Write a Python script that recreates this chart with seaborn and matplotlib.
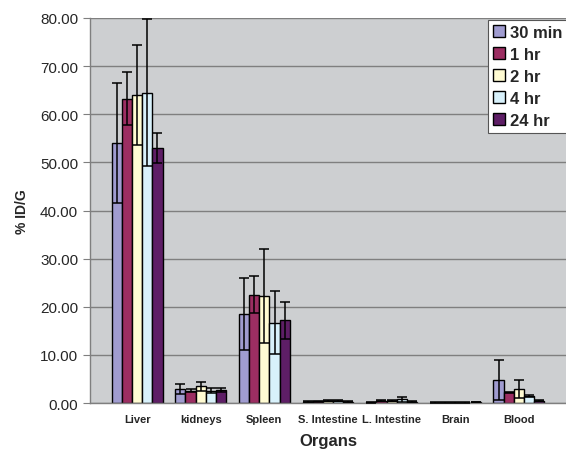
import numpy as np
import pandas as pd
import matplotlib
matplotlib.use("Agg")
import matplotlib.pyplot as plt
import seaborn as sns

organs = ["Liver", "kidneys", "Spleen", "S. Intestine", "L. Intestine", "Brain", "Blood"]
times = ["30 min", "1 hr", "2 hr", "4 hr", "24 hr"]

# valores medios por tempo (mesma ordem de organs)
vals_30min = [54.0, 2.9, 18.5, 0.3, 0.2, 0.1, 4.8]
vals_1hr = [63.2, 2.6, 22.5, 0.4, 0.5, 0.1, 2.2]
vals_2hr = [64.0, 3.5, 22.3, 0.5, 0.5, 0.1, 3.0]
vals_4hr = [64.5, 2.6, 16.7, 0.5, 0.8, 0.1, 1.5]
vals_24hr = [53.0, 2.7, 17.2, 0.3, 0.3, 0.2, 0.5]

# desvio padrao
err_30min = [12.5, 1.0, 7.5, 0.1, 0.1, 0.05, 4.2]
err_1hr = [5.5, 0.4, 3.8, 0.1, 0.1, 0.05, 0.2]
err_2hr = [10.3, 0.9, 9.8, 0.15, 0.15, 0.05, 1.9]
err_4hr = [15.3, 0.5, 6.6, 0.15, 0.5, 0.05, 0.2]
err_24hr = [3.2, 0.4, 3.9, 0.1, 0.1, 0.05, 0.1]

cores = ["#A09CD0", "#9C2E62", "#FFFBD2", "#D8F1FB", "#5E1E66"]

medias = [vals_30min, vals_1hr, vals_2hr, vals_4hr, vals_24hr]
erros = [err_30min, err_1hr, err_2hr, err_4hr, err_24hr]

linhas = []
for t, m, e in zip(times, medias, erros):
    for o, v, d in zip(organs, m, e):
        linhas.append({"Organ": o, "Time": t, "value": v, "err": d})
df = pd.DataFrame(linhas)

sns.set_style("white")
plt.rcParams["font.family"] = ["Liberation Sans", "DejaVu Sans"]

fig, ax = plt.subplots(figsize=(5.66, 4.52), dpi=100)
fig.subplots_adjust(left=0.159, right=1.0, top=0.958, bottom=0.106)
ax.set_facecolor("#CDCFD1")

sns.barplot(data=df, x="Organ", y="value", hue="Time", order=organs, hue_order=times,
            palette=cores, errorbar=None, width=0.8, edgecolor="black", linewidth=1.0,
            saturation=1, ax=ax, zorder=2)

# barras de erro a partir dos patches
for i, t in enumerate(times):
    cont = ax.containers[i]
    sub = df[df["Time"] == t].set_index("Organ").loc[organs]
    xs = [p.get_x() + p.get_width() / 2 for p in cont.patches]
    ys = [p.get_height() for p in cont.patches]
    ax.errorbar(xs, ys, yerr=sub["err"].values, fmt="none", ecolor="black",
                elinewidth=1.1, capsize=3.5, capthick=1.1, zorder=3)

ax.set_ylim(0, 80)
ax.set_yticks(np.arange(0, 81, 10))
ax.set_yticklabels([f"{v:.2f}" for v in np.arange(0, 81, 10)], fontsize=11)
ax.yaxis.grid(True, color="#7F7F7F", linewidth=1.0, zorder=0)
ax.set_axisbelow(True)

ax.set_xticks(np.arange(-0.5, len(organs), 1), minor=True)
ax.tick_params(axis="x", which="major", length=0, pad=8)
ax.tick_params(axis="x", which="minor", length=4, color="#7F7F7F")
ax.tick_params(axis="y", length=5, color="#7F7F7F", direction="out", left=True)
for lab in ax.get_xticklabels():
    lab.set_fontsize(8)
    lab.set_fontweight("bold")

ax.set_xlabel("Organs", fontsize=12, fontweight="bold", labelpad=6)
ax.set_ylabel("% ID/G", fontsize=10, fontweight="bold", labelpad=8)

for s in ["top", "right"]:
    ax.spines[s].set_visible(False)
for s in ["left", "bottom"]:
    ax.spines[s].set_color("#7F7F7F")
    ax.spines[s].set_linewidth(1.0)

leg = ax.legend(loc="upper left", bbox_to_anchor=(0.836, 0.995), frameon=True, fancybox=False,
                edgecolor="#555555", framealpha=1, handlelength=0.75, handleheight=0.75,
                handletextpad=0.3, labelspacing=0.42, borderpad=0.3, borderaxespad=0,
                prop={"weight": "bold", "size": 12})
leg.get_frame().set_linewidth(0.8)

plt.savefig("out.png", dpi=100)
